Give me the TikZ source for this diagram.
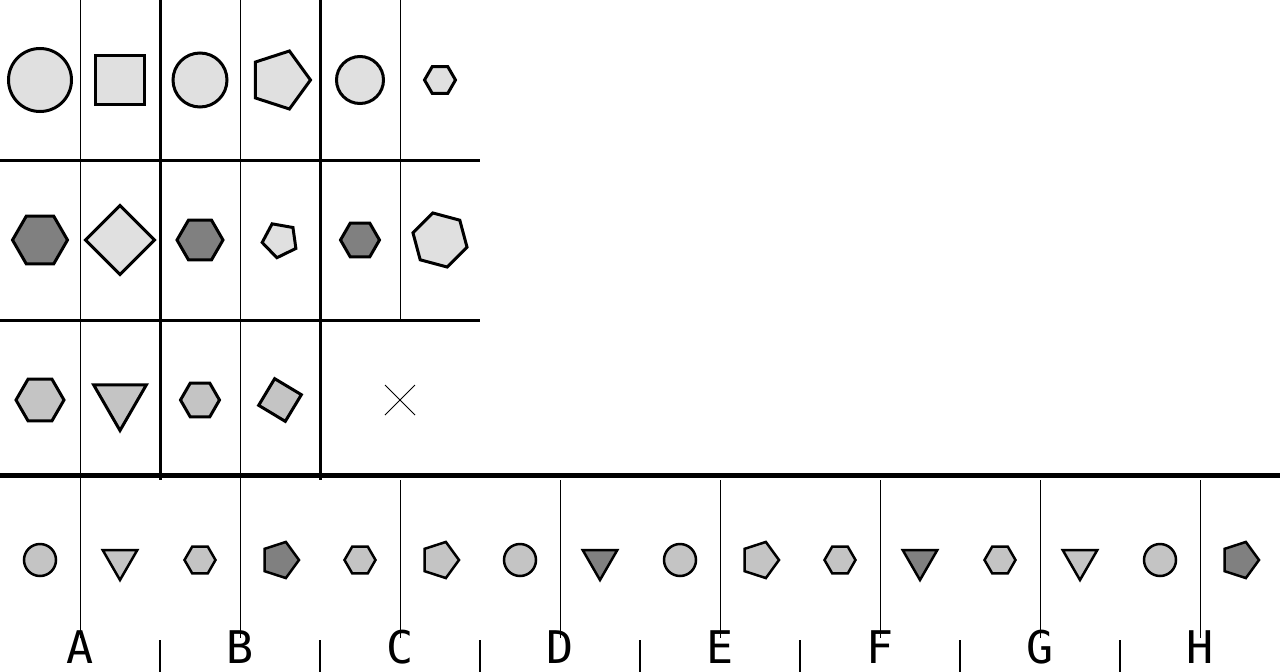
\documentclass[tikz,border=0pt]{standalone}
\usepackage{fontspec}
\setmonofont{DejaVu Sans Mono}
\usepackage{tikz}
\usetikzlibrary{shapes.geometric}
\definecolor{palefill}{RGB}{224,224,224}
\definecolor{midfill}{RGB}{196,196,196}
\definecolor{darkfill}{RGB}{128,128,128}

\begin{document}
\begin{tikzpicture}[x=1pt,y=-1pt,font=\ttfamily\fontsize{45}{45}\selectfont,
    cellshape/.style={draw=black,line width=3pt,inner sep=0pt,outer sep=0pt},
    optshape/.style={cellshape,line width=2.5pt},
    poly/.style={regular polygon,regular polygon sides=#1},
    optcircle/.style={circle,minimum size=32pt},
    opttri/.style={poly=3,minimum size=40pt,rotate=180},
    opthex/.style={poly=6,minimum size=31pt},
    optpent/.style={poly=5,minimum size=38pt,rotate=-18}]
  \useasboundingbox (0,0) rectangle (1280,672);
  % grid of the puzzle
  \draw[line width=1pt] (80,0) -- (80,638) (240,0) -- (240,638) (400,0) -- (400,320);
  \foreach \x in {400,560,...,1200}
    \draw[line width=1pt] (\x,480) -- (\x,638);
  \draw[line width=3pt] (160,0) -- (160,480) (320,0) -- (320,480)
    (0,160) -- (480,160) (0,320) -- (480,320);
  \draw[line width=5pt] (0,475) -- (1280,475);
  \foreach \x in {160,320,...,1120}
    \draw[line width=2pt] (\x,640) -- (\x,672);
  \newcommand{\cellpoly}[7]{
    \node[cellshape,poly=#4,minimum size=#5pt,rotate=#6,fill=#7] (#1) at (#2,#3) {};}
  \newcommand{\cellround}[5]{
    \node[cellshape,circle,minimum size=#4pt,fill=#5] (#1) at (#2,#3) {};}
  % row 1
  \cellround{r1c1}{40}{80}{63}{palefill}
  \cellpoly{r1c2}{120}{80}{4}{70}{0}{palefill}
  \cellround{r1c3}{200}{80}{54}{palefill}
  \cellpoly{r1c4}{280}{80}{5}{61}{-18}{palefill}
  \cellround{r1c5}{360}{80}{47}{palefill}
  \cellpoly{r1c6}{440}{80}{6}{31}{0}{palefill}
  % row 2
  \cellpoly{r2c1}{40}{240}{6}{55}{0}{darkfill}
  \cellpoly{r2c2}{120}{240}{4}{69}{45}{palefill}
  \cellpoly{r2c3}{200}{240}{6}{46}{0}{darkfill}
  \cellpoly{r2c4}{280}{240}{5}{36}{26}{palefill}
  \cellpoly{r2c5}{360}{240}{6}{39}{0}{darkfill}
  \cellpoly{r2c6}{440}{240}{6}{56}{-15}{palefill}
  % row 3
  \cellpoly{r3c1}{40}{400}{6}{48}{0}{midfill}
  \cellpoly{r3c2}{120}{400}{3}{61}{180}{midfill}
  \cellpoly{r3c3}{200}{400}{6}{39}{0}{midfill}
  \cellpoly{r3c4}{280}{400}{4}{44}{-31}{midfill}
  \draw[line width=0.8pt] (385,385) -- (415,415) (385,415) -- (415,385);
  % answer options
  \foreach \kind/\tone [count=\i] in {optcircle/midfill,opttri/midfill,opthex/midfill,optpent/darkfill,
      opthex/midfill,optpent/midfill,optcircle/midfill,opttri/darkfill,
      optcircle/midfill,optpent/midfill,opthex/midfill,opttri/darkfill,
      opthex/midfill,opttri/midfill,optcircle/midfill,optpent/darkfill}
    \node[optshape,\kind,fill=\tone] (opt\i) at ({80*\i-40},560) {};
  \foreach \lab [count=\i] in {A,B,C,D,E,F,G,H}
    \node[anchor=base,inner sep=0pt] (lab\lab) at ({160*\i-80},663) {\lab};
\end{tikzpicture}
\end{document}
